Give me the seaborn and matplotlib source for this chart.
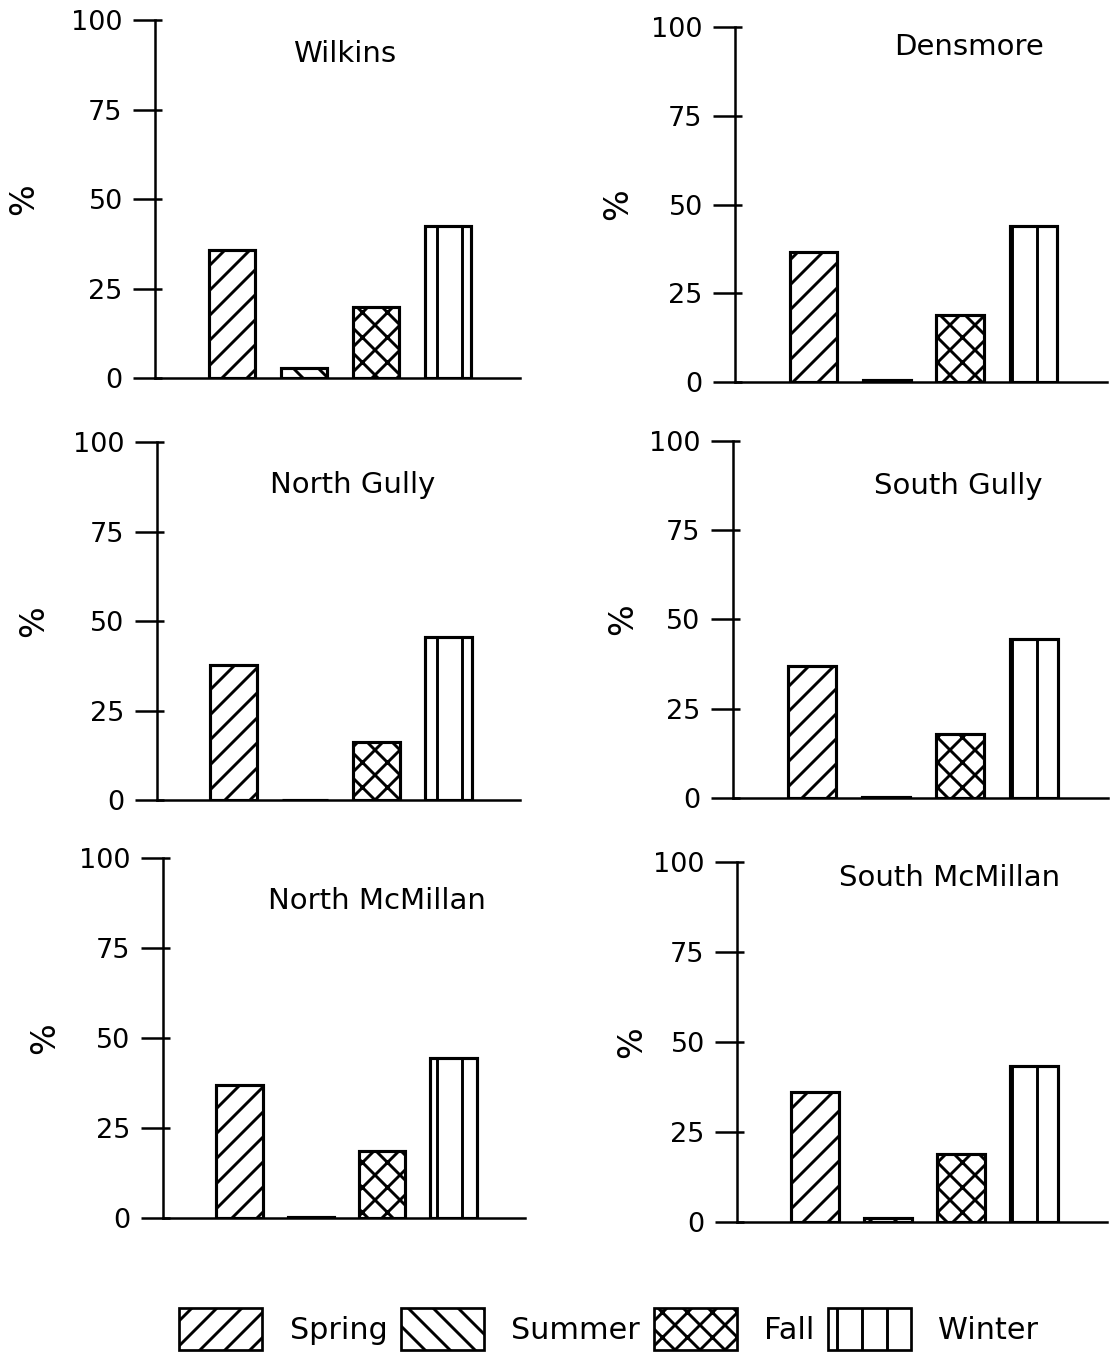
import matplotlib
matplotlib.use("Agg")
import matplotlib.pyplot as plt
import seaborn as sns
import pandas as pd
from matplotlib.patches import Patch

seasons = ["Spring", "Summer", "Fall", "Winter"]
hatches = ["//", "\\\\", "xx", "|"]
sites = ["Wilkins", "Densmore", "North Gully", "South Gully", "North McMillan", "South McMillan"]
wilkins = [35.8, 2.8, 19.8, 42.5]
densmore = [36.6, 0.5, 18.9, 43.9]
north_gully = [37.7, 0.0, 16.2, 45.5]
south_gully = [37.0, 0.3, 17.9, 44.5]
north_mcmillan = [36.9, 0.3, 18.6, 44.4]
south_mcmillan = [36.1, 1.1, 18.9, 43.3]
site_values = [wilkins, densmore, north_gully, south_gully, north_mcmillan, south_mcmillan]
yticks = [0, 25, 50, 75, 100]

sns.set_theme(style="white")
plt.rcParams['font.family'] = ['DejaVu Sans']
for k in ['text.color', 'axes.labelcolor', 'xtick.color', 'ytick.color']:
    plt.rcParams[k] = 'black'
plt.rcParams['hatch.linewidth'] = 1.4
plt.rcParams['hatch.color'] = 'black'

DPI = 150
fig = plt.figure(figsize=(1117 / DPI, 1358 / DPI), dpi=DPI)

# [left, bottom, width, height] in figure fractions
positions = [
    [0.1388, 0.7216, 0.3268, 0.2636],
    [0.6580, 0.7187, 0.3330, 0.2614],
    [0.1405, 0.4109, 0.3250, 0.2636],
    [0.6562, 0.4124, 0.3357, 0.2629],
    [0.1459, 0.1031, 0.3241, 0.2651],
    [0.6598, 0.1001, 0.3312, 0.2651],
]
title_pos = [(0.52, 0.905), (0.63, 0.945), (0.54, 0.88), (0.60, 0.875), (0.59, 0.88), (0.575, 0.955)]
label_x = [-0.315, -0.27, -0.295, -0.25, -0.28, -0.24]

for i, (site, vals) in enumerate(zip(sites, site_values)):
    ax = fig.add_axes(positions[i])
    df = pd.DataFrame({"season": seasons, "pct": vals})
    sns.barplot(data=df, x="season", y="pct", order=seasons, ax=ax,
                color="white", edgecolor="black", linewidth=1.5, width=0.65,
                saturation=1)
    for patch, h in zip(ax.patches, hatches):
        patch.set_facecolor("white")
        patch.set_hatch(h)
    ax.set_ylim(0, 100)
    ax.set_xlim(-1.07, 4.0)
    ax.set_yticks(yticks)
    ax.set_yticklabels([str(t) for t in yticks], fontsize=13)
    ax.set_yticks(yticks, minor=True)
    ax.yaxis.remove_overlapping_locs = False
    ax.set_xticks([])
    ax.set_xlabel("")
    ax.set_ylabel("%", fontsize=16, rotation=90)
    ax.yaxis.set_label_coords(label_x[i], 0.5)
    for s in ["top", "right"]:
        ax.spines[s].set_visible(False)
    for s in ["left", "bottom"]:
        ax.spines[s].set_linewidth(1.2)
        ax.spines[s].set_color("black")
    ax.tick_params(axis="y", which="major", direction="out", length=10.5, width=1.2,
                   pad=5, colors="black", left=True)
    ax.tick_params(axis="y", which="minor", direction="in", length=3.5, width=1.2,
                   colors="black", left=True)
    ax.patch.set_alpha(0)
    ax.text(title_pos[i][0], title_pos[i][1], site, transform=ax.transAxes,
            ha="center", va="center", fontsize=14)

handles = [Patch(facecolor="white", edgecolor="black", hatch=h, linewidth=1.3)
           for h in hatches]
fig.legend(handles, seasons, loc="center", bbox_to_anchor=(0.545, 0.0215),
           ncol=4, frameon=False, fontsize=14.5, handlelength=2.75, handleheight=1.75,
           columnspacing=0.45, handletextpad=0.9)

fig.savefig("out.png", dpi=DPI, facecolor="white")
